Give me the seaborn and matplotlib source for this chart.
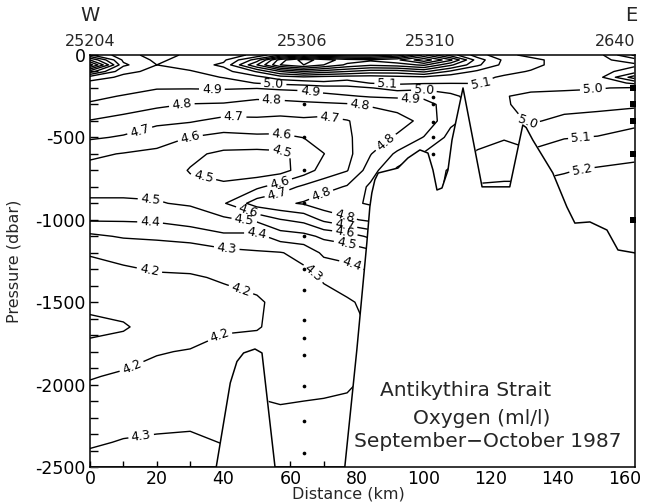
import numpy as np
import matplotlib
matplotlib.use("Agg")
import matplotlib.pyplot as plt
import matplotlib.transforms as mtransforms
from matplotlib.ticker import MultipleLocator
import seaborn as sns

# section grid: distance of each profile column (km) and pressure levels (dbar)
dist_km = [0, 10, 20, 30, 40, 50, 57, 64, 70, 77, 84, 92, 100, 108, 116, 124, 132, 142, 152, 163]
pres_dbar = [0, 30, 60, 100, 135, 170, 200, 250, 300, 400, 500, 600, 700, 800,
             900, 1000, 1100, 1200, 1350, 1500, 1650, 1800, 1950, 2150, 2350, 2500]

# oxygen (ml/l) down each column
o2_km0 = [5.21, 5.5, 5.75, 5.35, 5.05, 4.97, 4.95, 4.92, 4.89, 4.795, 4.713, 4.618, 4.57,
          4.53, 4.485, 4.41, 4.28, 4.205, 4.17, 4.15, 4.05, 4.16, 4.195, 4.24, 4.29, 4.33]
o2_km10 = [5.04, 5.08, 5.12, 5.02, 4.98, 4.95, 4.93, 4.895, 4.86, 4.76, 4.69, 4.595, 4.56,
           4.52, 4.49, 4.41, 4.31, 4.22, 4.18, 4.16, 4.085, 4.17, 4.21, 4.26, 4.305, 4.33]
o2_km20 = [4.96, 4.98, 5.0, 4.98, 4.95, 4.92, 4.905, 4.87, 4.82, 4.73, 4.63, 4.585, 4.55,
           4.52, 4.495, 4.415, 4.32, 4.235, 4.19, 4.17, 4.16, 4.195, 4.225, 4.27, 4.31, 4.34]
o2_km30 = [5.02, 5.04, 5.05, 4.99, 4.96, 4.93, 4.905, 4.86, 4.795, 4.71, 4.598, 4.52, 4.495,
           4.52, 4.51, 4.45, 4.33, 4.255, 4.19, 4.16, 4.16, 4.205, 4.25, 4.28, 4.31, 4.34]
o2_km40 = [5.06, 5.08, 5.12, 5.06, 5.005, 4.95, 4.91, 4.85, 4.79, 4.67, 4.57, 4.48, 4.46,
           4.52, 4.59, 4.48, 4.38, 4.27, 4.21, 4.17, 4.18, 4.25, 4.27, 4.285, 4.298, 4.32]
o2_km50 = [5.12, 5.35, 5.5, 5.21, 5.07, 5.005, 4.905, 4.82, 4.77, 4.68, 4.58, 4.47, 4.44,
           4.58, 4.75, 4.52, 4.37, 4.29, 4.225, 4.19, 4.195, 4.23, 4.28, 4.31, 4.33, 4.34]
o2_km57 = [5.3, 5.75, 5.8, 5.4, 5.15, 5.03, 4.92, 4.83, 4.77, 4.67, 4.58, 4.48, 4.46,
           4.65, 4.78, 4.595, 4.45, 4.295, 4.24, 4.22, 4.22, 4.24, 4.27, 4.305, 4.33, 4.34]
o2_km64 = [5.42, 5.95, 5.9, 5.5, 5.18, 5.05, 4.93, 4.84, 4.78, 4.68, 4.602, 4.53, 4.55,
           4.72, 4.81, 4.63, 4.47, 4.33, 4.27, 4.24, 4.23, 4.24, 4.27, 4.31, 4.33, 4.34]
o2_km70 = [5.35, 5.85, 5.8, 5.45, 5.16, 5.08, 4.95, 4.87, 4.78, 4.67, 4.64, 4.598, 4.64,
           4.76, 4.86, 4.72, 4.52, 4.42, 4.31, 4.27, 4.25, 4.26, 4.28, 4.31, 4.33, 4.34]
o2_km77 = [5.32, 5.75, 5.68, 5.4, 5.15, 5.05, 4.97, 4.89, 4.79, 4.695, 4.68, 4.67, 4.695,
           4.81, 4.88, 4.78, 4.55, 4.44, 4.34, 4.29, 4.28, 4.28, 4.29, 4.31, 4.33, 4.34]
o2_km84 = [5.32, 5.72, 5.62, 5.35, 5.15, 5.105, 4.995, 4.91, 4.81, 4.74, 4.77, 4.795, 4.85,
           4.92, 4.91, 4.82, 4.62, 4.47, 4.38, 4.32, 4.305, 4.305, 4.305, 4.31, 4.33, 4.34]
o2_km92 = [5.42, 5.78, 5.65, 5.35, 5.17, 5.12, 5.04, 4.92, 4.83, 4.77, 4.81, 4.92, 5.02,
           5.03, 4.95, 4.91, 4.75, 4.62, 4.52, 4.44, 4.38, 4.36, 4.35, 4.35, 4.35, 4.35]
o2_km100 = [5.72, 5.97, 5.72, 5.42, 5.18, 5.11, 5.02, 4.93, 4.85, 4.82, 4.905, 5.01, 5.05,
            5.05, 5.02, 4.95, 4.85, 4.75, 4.62, 4.52, 4.45, 4.42, 4.41, 4.38, 4.37, 4.36]
o2_km108 = [5.45, 5.72, 5.52, 5.28, 5.14, 5.105, 5.03, 4.985, 4.96, 4.98, 5.03, 5.06, 5.11,
            5.12, 5.12, 5.12, 5.12, 5.12, 5.12, 5.12, 5.12, 5.12, 5.12, 5.12, 5.12, 5.12]
o2_km116 = [5.25, 5.35, 5.32, 5.18, 5.12, 5.105, 5.05, 5.03, 5.03, 5.04, 5.07, 5.11, 5.16,
            5.21, 5.22, 5.22, 5.22, 5.22, 5.22, 5.22, 5.22, 5.22, 5.22, 5.22, 5.22, 5.22]
o2_km124 = [5.12, 5.18, 5.17, 5.12, 5.09, 5.07, 5.03, 5.005, 5.01, 5.03, 5.09, 5.15, 5.18,
            5.21, 5.22, 5.22, 5.22, 5.22, 5.22, 5.22, 5.22, 5.22, 5.22, 5.22, 5.22, 5.22]
o2_km132 = [5.08, 5.12, 5.12, 5.095, 5.06, 5.04, 5.02, 4.98, 4.97, 4.99, 5.05, 5.12, 5.18,
            5.21, 5.22, 5.22, 5.22, 5.22, 5.22, 5.22, 5.22, 5.22, 5.22, 5.22, 5.22, 5.22]
o2_km142 = [5.06, 5.07, 5.07, 5.06, 5.04, 5.02, 5.01, 4.98, 4.97, 5.02, 5.095, 5.15, 5.195,
            5.22, 5.23, 5.23, 5.23, 5.23, 5.23, 5.23, 5.23, 5.23, 5.23, 5.23, 5.23, 5.23]
o2_km152 = [5.06, 5.07, 5.07, 5.06, 5.06, 5.03, 5.005, 4.97, 4.97, 5.04, 5.105, 5.16, 5.21,
            5.23, 5.24, 5.25, 5.25, 5.25, 5.25, 5.25, 5.25, 5.25, 5.25, 5.25, 5.25, 5.25]
o2_km163 = [5.32, 5.15, 5.08, 5.15, 5.35, 5.12, 4.99, 4.97, 4.98, 5.07, 5.14, 5.18, 5.22,
            5.24, 5.25, 5.26, 5.26, 5.26, 5.26, 5.26, 5.26, 5.26, 5.26, 5.26, 5.26, 5.26]

# sea floor along the section
bottom_km = [0, 37.8, 42.0, 44.0, 46.0, 49.4, 51.5, 55.4, 76.3, 79.9, 82.9, 83.8, 84.4,
             85.3, 86.3, 92.2, 95.2, 98.8, 101.2, 102.7, 103.9, 105.4, 107.2, 108.4, 111.7,
             117.4, 125.7, 129.6, 130.6, 132.6, 138.6, 142.8, 145.2, 149.7, 154.8, 158.1, 163.2]
bottom_dbar = [2500, 2500, 1990, 1860, 1808, 1784, 1808, 2500, 2500, 1790, 1140, 922, 837,
               758, 716, 686, 625, 576, 595, 698, 819, 807, 698, 516, 200,
               800, 800, 425, 440, 516, 716, 922, 1020, 1013, 1062, 1183, 1201]

# stations and their sample depths
stn_names = ["25204", "25306", "25310", "2640"]
stn_km = [0, 63.5, 102, 163.2]
samples_25306 = [300, 500, 700, 900, 1100, 1300, 1425, 1610, 1720, 1820, 2010, 2220, 2415]
samples_25310 = [255, 300, 405, 500, 600]
samples_2640 = [200, 300, 400, 600, 1000]

o2 = np.column_stack([o2_km0, o2_km10, o2_km20, o2_km30, o2_km40, o2_km50, o2_km57,
                      o2_km64, o2_km70, o2_km77, o2_km84, o2_km92, o2_km100, o2_km108,
                      o2_km116, o2_km124, o2_km132, o2_km142, o2_km152, o2_km163])

sns.set_theme(style="ticks")
plt.rcParams['font.family'] = ['DejaVu Sans']
plt.rcParams['axes.unicode_minus'] = False

fig = plt.figure(figsize=(6.54, 5.04), dpi=100)
ax = fig.add_axes([90 / 654, 37 / 504, 545 / 654, 412 / 504])
ax.set_xlim(0, 163.2)
ax.set_ylim(-2500, 0)

levels = np.round(np.arange(4.1, 6.05, 0.1), 1)
cs = ax.contour(dist_km, -np.array(pres_dbar), o2, levels=levels,
                colors='black', linewidths=1.0, zorder=1)

label_spots = {
    4.2: [(18, 1286), (46, 1377), (39, 1711), (12, 1869)],
    4.3: [(41, 1153), (67, 1323), (15.5, 2340)],
    4.4: [(18, 1010), (50, 1080), (78, 1287)],
    4.5: [(18, 920), (34, 740), (57, 607), (46, 1030), (77, 1123)],
    4.6: [(30, 504), (57.5, 467), (57, 790), (47, 970), (76.5, 1050)],
    4.7: [(15, 467), (43, 364), (72, 364), (56, 838), (76.5, 1001)],
    4.8: [(27.5, 303), (54.5, 261), (81, 290), (88, 516), (69, 838), (76.5, 953)],
    4.9: [(36.5, 200), (66, 212), (96, 273)],
    5.0: [(55, 164), (100, 200), (150.6, 225), (131, 410)],
    5.1: [(89, 180), (117, 170), (147, 498)],
    5.2: [(147, 655)],
}
# set up label properties once, then put each label on its own level
cs.clabel(manual=[], inline=True, inline_spacing=3, fmt='%.1f', fontsize=9)
for lev, spots in label_spots.items():
    idx = int(np.argmin(np.abs(cs.levels - lev)))
    cs.labelIndiceList = [idx]
    for x, p in spots:
        cs.add_label_near(x, -p, inline=True, inline_spacing=3)
cs.labelIndiceList = list(range(len(cs.levels)))

# mask under the sea floor and draw it
ax.fill_between(bottom_km, -np.array(bottom_dbar), -2600, color='white', zorder=2)
sns.lineplot(x=bottom_km, y=-np.array(bottom_dbar), sort=False, estimator=None,
             color='black', linewidth=1.1, ax=ax, zorder=3)

# sample positions
sns.scatterplot(x=[64] * len(samples_25306), y=-np.array(samples_25306), color='black',
                s=7, linewidth=0, ax=ax, zorder=4, clip_on=False)
sns.scatterplot(x=[102.7] * len(samples_25310), y=-np.array(samples_25310), color='black',
                s=7, linewidth=0, ax=ax, zorder=4, clip_on=False)
sns.scatterplot(x=[162.6] * len(samples_2640), y=-np.array(samples_2640), color='black',
                s=14, marker='s', linewidth=0, ax=ax, zorder=4, clip_on=False)

# axes cosmetics
for sp in ax.spines.values():
    sp.set_visible(True)
    sp.set_linewidth(1.1)
    sp.set_color('black')
ax.set_xticks(np.arange(0, 161, 20))
ax.xaxis.set_minor_locator(MultipleLocator(10))
ax.set_yticks(np.arange(-2500, 1, 500))
ax.set_yticklabels([str(v) for v in np.arange(-2500, 1, 500)])
ax.yaxis.set_minor_locator(MultipleLocator(100))
ax.tick_params(which='both', direction='in', colors='black', labelsize=12.5, width=1.0)
ax.tick_params(axis='x', which='both', length=4, pad=2)
ax.tick_params(axis='y', which='both', length=6, pad=3)
ax.set_xlabel('Distance (km)', fontsize=11.5)
ax.set_ylabel('Pressure (dbar)', fontsize=11.5)
ax.xaxis.set_label_coords((348 - 90) / 545, -0.047)
ax.yaxis.set_label_coords(-0.125, 0.5)
ax.grid(False)

# station names along the top
top = mtransforms.blended_transform_factory(ax.transData, ax.transAxes)
for name, km in zip(stn_names, stn_km):
    ha = 'right' if km > 160 else 'center'
    ax.text(km, 1.032, name, transform=top, ha=ha, va='center', fontsize=11.5)
ax.text(0, 1.097, 'W', transform=top, ha='center', va='center', fontsize=14)
ax.text(162, 1.097, 'E', transform=top, ha='center', va='center', fontsize=14)

# title block
ax.text(112.6, -2033, 'Antikythira Strait', ha='center', va='center', fontsize=14.5, zorder=5)
ax.text(117.4, -2203, 'Oxygen (ml/l)', ha='center', va='center', fontsize=14.5, zorder=5)
ax.text(119.2, -2348, 'September\u2212October 1987', ha='center', va='center',
        fontsize=14.5, zorder=5)

fig.savefig('out.png', dpi=100)
